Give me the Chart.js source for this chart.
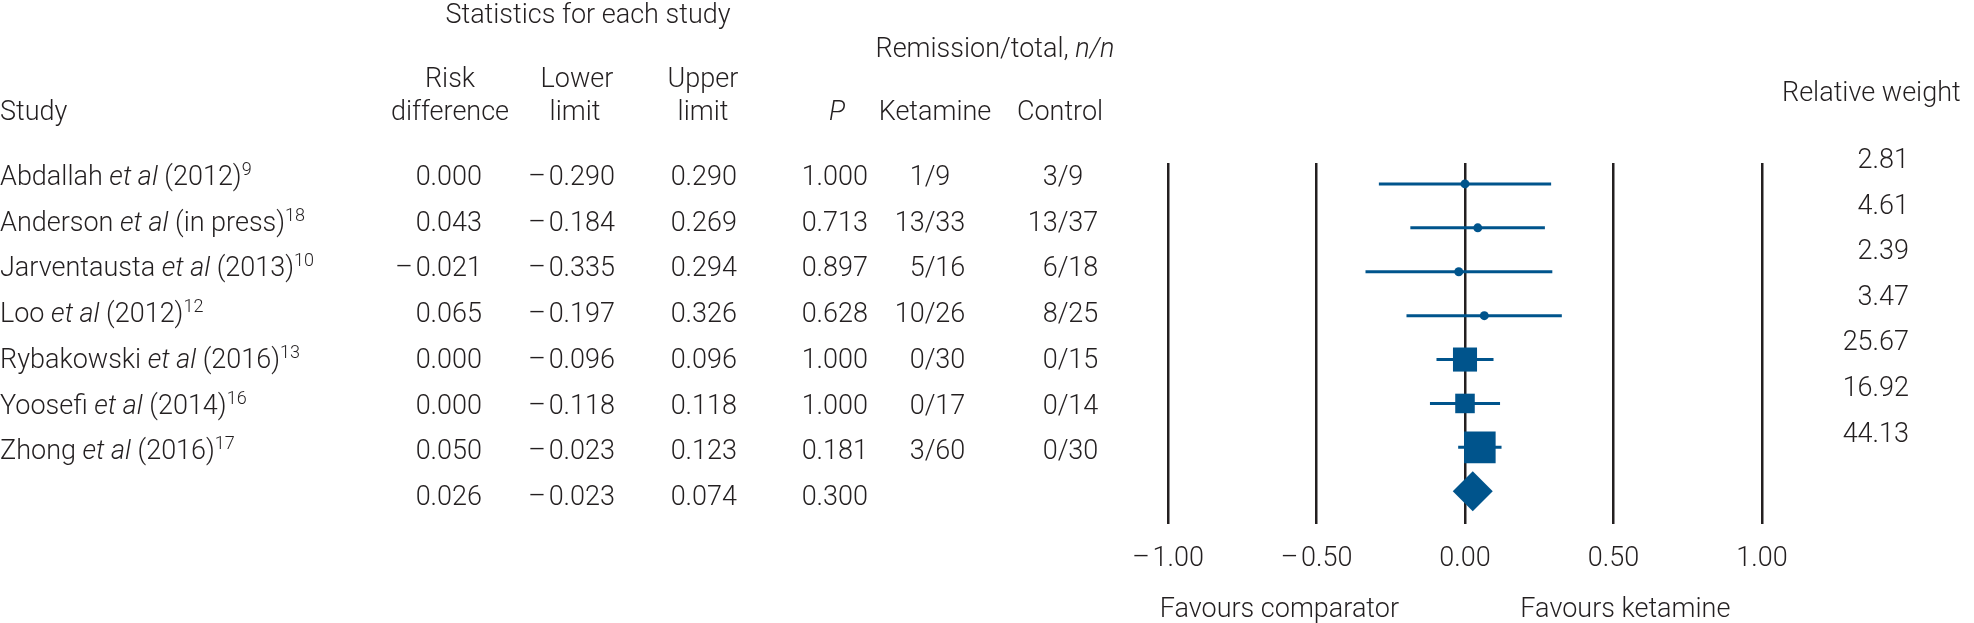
<!DOCTYPE html>
<html>
<head>
<meta charset="utf-8">
<script src="https://cdn.jsdelivr.net/npm/chart.js@4.4.0/dist/chart.umd.min.js"></script>
<style>
  html, body { margin: 0; padding: 0; background: #fff; }
  #wrap { width: 1974px; height: 623px; position: relative; }
</style>
</head>
<body>
<div id="wrap"><canvas id="forest"></canvas></div>
<script>
// study table
const studies = ["Abdallah", "Anderson", "Jarventausta", "Loo", "Rybakowski", "Yoosefi", "Zhong"];
const years = ["(2012)", "(in press)", "(2013)", "(2012)", "(2016)", "(2014)", "(2016)"];
const refs = ["9", "18", "10", "12", "13", "16", "17"];
const riskDiff = [0.000, 0.043, -0.021, 0.065, 0.000, 0.000, 0.050];
const lowerLimit = [-0.290, -0.184, -0.335, -0.197, -0.096, -0.118, -0.023];
const upperLimit = [0.290, 0.269, 0.294, 0.326, 0.096, 0.118, 0.123];
const pValues = [1.000, 0.713, 0.897, 0.628, 1.000, 1.000, 0.181];
const ketamine = ["1/9", "13/33", "5/16", "10/26", "0/30", "0/17", "3/60"];
const control = ["3/9", "13/37", "6/18", "8/25", "0/15", "0/14", "0/30"];
const relWeight = [2.81, 4.61, 2.39, 3.47, 25.67, 16.92, 44.13];

// pooled estimate
const pooledDiff = 0.026;
const pooledLower = -0.023;
const pooledUpper = 0.074;
const pooledP = 0.300;

const xTicks = [-1, -0.5, 0, 0.5, 1];

const ink = "#231f20";
const blue = "#00548c";
const FS = 27;

function font(size, italic) {
  return (italic ? "italic " : "") + "300 " + size + "px Roboto, 'Liberation Sans', sans-serif";
}
function fmt(v, d) {
  const s = Math.abs(v).toFixed(d);
  return v < 0 ? "\u2013\u200A" + s : s;
}

const pooledRow = studies.length;

const ciSets = studies.map((s, i) => ({
  type: "line",
  data: [{ x: lowerLimit[i], y: i }, { x: upperLimit[i], y: i }],
  borderColor: blue,
  borderWidth: 3,
  pointRadius: 0,
  showLine: true,
  order: 2
}));

const tablePlugin = {
  id: "forestTable",
  afterDraw(chart) {
    const ctx = chart.ctx;
    const xs = chart.scales.x;
    ctx.save();
    ctx.fillStyle = ink;
    ctx.textBaseline = "alphabetic";

    function text(str, x, y, align, italic, size) {
      ctx.font = font(size || FS, italic);
      ctx.textAlign = align || "left";
      ctx.fillText(str, x, y);
    }
    function rich(parts, x, y, align) {
      let w = 0;
      parts.forEach(p => {
        ctx.font = font(p.sup ? 18 : FS, p.it);
        w += ctx.measureText(p.t).width;
      });
      let cx = align === "center" ? x - w / 2 : x;
      ctx.textAlign = "left";
      parts.forEach(p => {
        ctx.font = font(p.sup ? 18 : FS, p.it);
        ctx.fillText(p.t, cx, p.sup ? y - 10 : y);
        cx += ctx.measureText(p.t).width;
      });
    }
    function fraction(str, slashX, y) {
      const [a, b] = str.split("/");
      ctx.font = font(FS);
      const sw = ctx.measureText("/").width;
      text(a, slashX - sw / 2, y, "right");
      text("/", slashX, y, "center");
      text(b, slashX + sw / 2, y, "left");
    }

    // headers
    text("Statistics for each study", 588, 23, "center");
    text("Risk", 450, 87, "center");
    text("difference", 450, 120, "center");
    text("Lower", 577, 87, "center");
    text("limit", 575, 120, "center");
    text("Upper", 703, 87, "center");
    text("limit", 703, 120, "center");
    rich([{ t: "Remission/total, " }, { t: "n/n", it: true }], 995, 57, "center");
    text("Study", 0, 120, "left");
    text("P", 837, 120, "center", true);
    text("Ketamine", 935, 120, "center");
    text("Control", 1060, 120, "center");
    text("Relative weight", 1782, 101, "left");

    // study rows
    const rowY = i => 185 + 45.7 * i;
    studies.forEach((s, i) => {
      const y = rowY(i);
      rich([{ t: s + " " }, { t: "et al", it: true }, { t: " " + years[i] }, { t: refs[i], sup: true }], 0, y);
      text(fmt(riskDiff[i], 3), 482, y, "right");
      text(fmt(lowerLimit[i], 3), 615, y, "right");
      text(fmt(upperLimit[i], 3), 737, y, "right");
      text(pValues[i].toFixed(3), 868, y, "right");
      fraction(ketamine[i], 930, y);
      fraction(control[i], 1063, y);
      text(relWeight[i].toFixed(2), 1909, 168 + 45.6 * i, "right");
    });
    const py = rowY(pooledRow);
    text(fmt(pooledDiff, 3), 482, py, "right");
    text(fmt(pooledLower, 3), 615, py, "right");
    text(fmt(pooledUpper, 3), 737, py, "right");
    text(pooledP.toFixed(3), 868, py, "right");

    // axis captions
    text("Favours comparator", xs.getPixelForValue(-0.625), 617, "center");
    text("Favours ketamine", xs.getPixelForValue(0.54), 617, "center");
    ctx.restore();
  }
};

new Chart(document.getElementById("forest"), {
  type: "scatter",
  data: {
    datasets: [
      {
        data: riskDiff.map((v, i) => ({ x: v, y: i })),
        pointStyle: relWeight.map(w => (w < 10 ? "circle" : "rect")),
        pointRadius: relWeight.map(w => (w < 10 ? 4.5 : (Math.sqrt(w) * 4.75) / Math.SQRT2)),
        backgroundColor: blue,
        borderWidth: 0,
        order: 0
      },
      {
        data: [{ x: pooledDiff, y: pooledRow }],
        pointStyle: "rectRot",
        pointRadius: 20,
        backgroundColor: blue,
        borderWidth: 0,
        order: 0
      },
      ...ciSets
    ]
  },
  options: {
    responsive: true,
    maintainAspectRatio: false,
    animation: false,
    events: [],
    layout: { padding: { left: 1168, right: 212, top: 163, bottom: 28.6 } },
    plugins: { legend: { display: false }, tooltip: { enabled: false } },
    scales: {
      x: {
        type: "linear",
        min: -1,
        max: 1,
        afterBuildTicks: axis => { axis.ticks = xTicks.map(v => ({ value: v })); },
        ticks: {
          color: ink,
          font: { family: "Roboto, 'Liberation Sans', sans-serif", size: FS, weight: 300 },
          padding: 19,
          maxRotation: 0,
          autoSkip: false,
          callback: v => fmt(v, 2)
        },
        grid: { color: ink, lineWidth: 2.5, drawTicks: false },
        border: { display: false }
      },
      y: {
        type: "linear",
        min: -0.477,
        max: 7.746,
        reverse: true,
        display: false
      }
    }
  },
  plugins: [tablePlugin]
});
</script>
</body>
</html>
